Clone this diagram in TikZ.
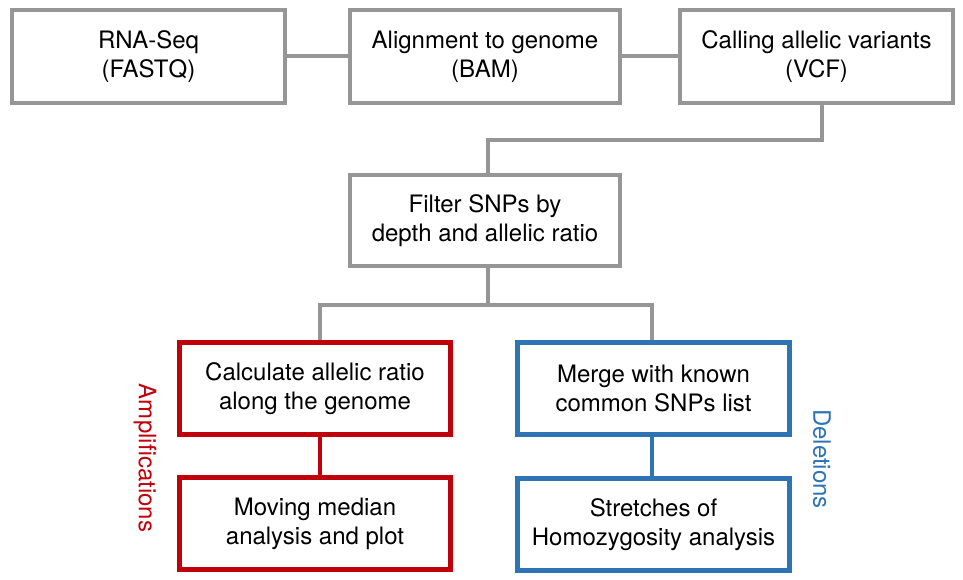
\documentclass[tikz,border=0pt]{standalone}
\usepackage{fontspec}
\setmainfont{TeX Gyre Heros}
\definecolor{boxgray}{RGB}{150,150,150}
\definecolor{ampred}{RGB}{192,0,10}
\definecolor{delblue}{RGB}{46,116,181}
\begin{document}
\begin{tikzpicture}[x=1pt,y=-1pt,
  every node/.style={font=\fontsize{24}{29}\selectfont, align=center, inner sep=0pt},
  graybox/.style={draw=boxgray, line width=4pt, fill=white, minimum height=93pt},
  redbox/.style={draw=ampred, line width=4.5pt, fill=white, minimum height=92pt, minimum width=271pt},
  bluebox/.style={draw=delblue, line width=4.5pt, fill=white, minimum height=92pt, minimum width=272pt},
  grayline/.style={draw=boxgray, line width=4pt},
  redline/.style={draw=ampred, line width=4.5pt},
  blueline/.style={draw=delblue, line width=4.5pt},
  sidelabel/.style={rotate=-90, font=\fontsize{24}{29}\selectfont}
]
\useasboundingbox (0,0) rectangle (963,580);
\fill[white] (0,0) rectangle (963,580);

\node[graybox, minimum width=273pt] (rna) at (148.5,56.5) {RNA-Seq\\(FASTQ)};
\node[graybox, minimum width=270pt] (aln) at (485,56.5) {Alignment to genome\\(BAM)};
\node[graybox, minimum width=273pt] (call) at (816.5,56.5) {Calling allelic variants\\(VCF)};
\node[graybox, minimum width=270pt, minimum height=91pt] (filt) at (485,220.5) {Filter SNPs by\\depth and allelic ratio};

\node[redbox] (calc) at (315,388.5) {Calculate allelic ratio\\along the genome};
\node[redbox] (mov) at (315,523.5) {Moving median\\analysis and plot};
\node[bluebox] (merge) at (653.5,388.5) {Merge with known\\common SNPs list};
\node[bluebox] (stretch) at (653.5,524.5) {Stretches of\\Homozygosity analysis};

\node[sidelabel, text=ampred] (amp) at (145,458) {Amplifications};
\node[sidelabel, text=delblue] (del) at (822,459) {Deletions};

\coordinate (c1) at (822,140);
\coordinate (c2) at (488,140);
\coordinate (s1) at (488,305);
\coordinate (sl) at (320,305);
\coordinate (sr) at (652,305);

\begin{scope}[on background layer/.try]
\end{scope}

\draw[grayline] (rna.east) -- (aln.west);
\draw[grayline] (aln.east) -- (call.west);
\draw[grayline, line join=miter] (call.south -| c1) -- (c1) -- (c2) -- (filt.north -| c2);
\draw[grayline] (filt.south -| s1) -- (s1);
\draw[grayline, line join=miter] (calc.north -| sl) -- (sl) -- (sr) -- (merge.north -| sr);
\draw[redline] (calc.south -| sl) -- (mov.north -| sl);
\draw[blueline] (merge.south -| sr) -- (stretch.north -| sr);
\end{tikzpicture}
\end{document}
